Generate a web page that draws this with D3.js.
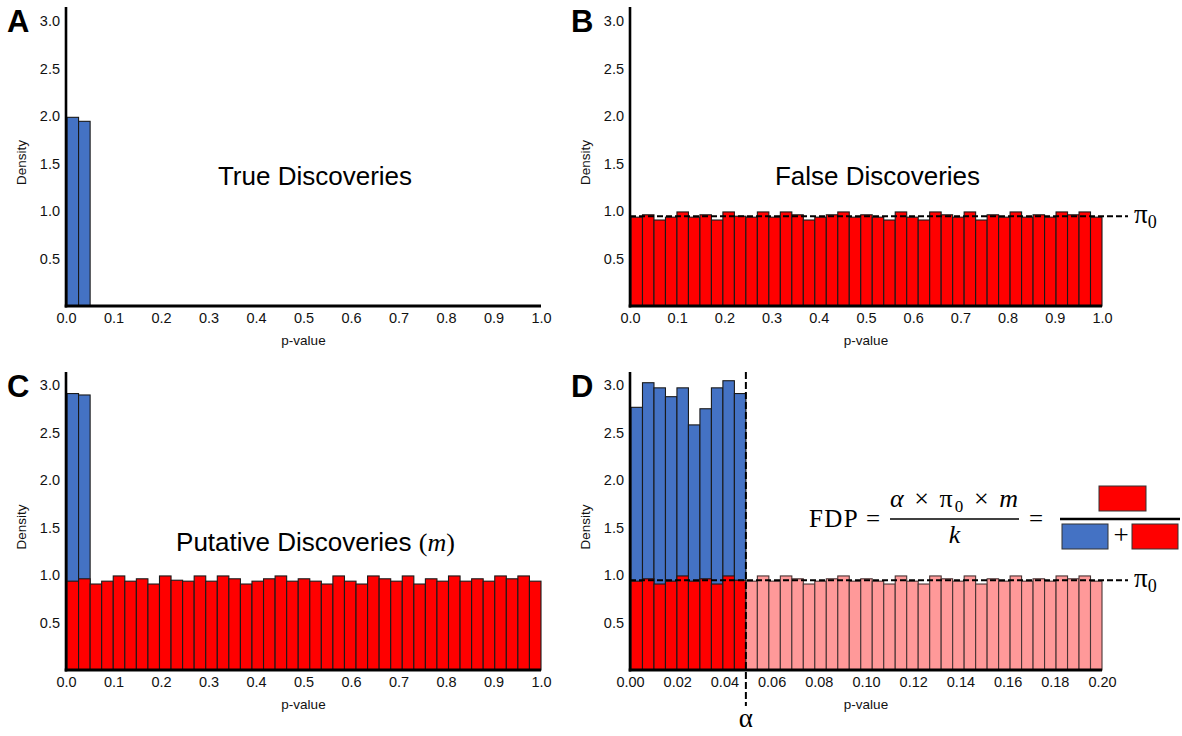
<!DOCTYPE html>
<html><head><meta charset="utf-8">
<script src="https://cdn.jsdelivr.net/npm/d3@7"></script>
<style>body{margin:0;background:#fff}svg{display:block}</style>
</head><body><svg id="c" width="1182" height="736"></svg>
<script>
// ---- data ----
// null (false-discovery) histogram densities, 41 bins
const nullDensity = [0.935,0.96,0.905,0.935,0.99,0.935,0.96,0.905,0.99,0.945,
  0.935,0.99,0.935,0.99,0.96,0.905,0.935,0.96,0.99,0.935,
  0.96,0.935,0.905,0.99,0.935,0.905,0.99,0.96,0.935,0.99,
  0.905,0.96,0.935,0.99,0.935,0.96,0.935,0.99,0.96,0.99,0.935];
const trueDensityA = [1.986, 1.944];          // panel A true discoveries
const totalDensityC = [2.91, 2.895];          // panel C first two bins (true+false)
const totalDensityD = [2.765,3.024,2.97,2.877,2.97,2.58,2.75,2.97,3.045,2.91]; // panel D bins below alpha
const pi0 = 0.945;
const alphaBins = 10;
const yTicks = [0.5,1.0,1.5,2.0,2.5,3.0];
const xTicksUnit = [0,0.1,0.2,0.3,0.4,0.5,0.6,0.7,0.8,0.9,1.0];
const xTicksZoom = [0,0.02,0.04,0.06,0.08,0.10,0.12,0.14,0.16,0.18,0.20];
const panelLetters = ["A","B","C","D"];
const titleA = "True Discoveries", titleB = "False Discoveries", titleC = "Putative Discoveries ";

const svg = d3.select("#c");
const RED="#FF0000", BLUE="#4472C4", PINK="#FF9999", EDGE="#1a1a1a";
const sans="'Liberation Sans', Arial, sans-serif", serif="'Liberation Serif', 'Times New Roman', serif";

const panels = [
  {id:"A", x0:66, x1:541, y0:306, yTop:7, xTicks:xTicksUnit, xDom:[0,1], fmt:d3.format(".1f")},
  {id:"B", x0:630, x1:1102, y0:306, yTop:7, xTicks:xTicksUnit, xDom:[0,1], fmt:d3.format(".1f")},
  {id:"C", x0:66, x1:541, y0:670, yTop:372, xTicks:xTicksUnit, xDom:[0,1], fmt:d3.format(".1f")},
  {id:"D", x0:630, x1:1102, y0:670, yTop:372, xTicks:xTicksZoom, xDom:[0,0.2], fmt:d3.format(".2f")}
];

panels.forEach((p,pi) => {
  const g = svg.append("g");
  p.y = d3.scaleLinear().domain([0,3]).range([p.y0, p.y0-285]);
  p.x = d3.scaleLinear().domain(p.xDom).range([p.x0, p.x1]);
  p.b = d3.scaleBand().domain(d3.range(nullDensity.length)).range([p.x0+1, p.x1]).padding(0);
  p.g = g;
  const bar = (sel, i, v, fill, edge) => sel.append("rect")
      .attr("x", p.b(i)).attr("width", p.b.bandwidth())
      .attr("y", p.y(v)).attr("height", p.y0 - p.y(v))
      .attr("fill", fill).attr("stroke", edge||EDGE).attr("stroke-width", 1.1);
  const bars = g.append("g");
  if (p.id==="A") {
    trueDensityA.forEach((v,i)=>bar(bars,i,v,BLUE));
  } else if (p.id==="B") {
    nullDensity.forEach((v,i)=>bar(bars,i,v,RED));
  } else if (p.id==="C") {
    totalDensityC.forEach((v,i)=>bar(bars,i,v,BLUE));
    nullDensity.forEach((v,i)=>bar(bars,i,v,RED));
  } else {
    totalDensityD.forEach((v,i)=>bar(bars,i,v,BLUE));
    nullDensity.forEach((v,i)=>{ if(i<alphaBins) bar(bars,i,v,RED); else bar(bars,i,v,PINK,"#4a3535"); });
  }
  // axes
  const ya = g.append("g").attr("transform",`translate(${p.x0},0)`)
    .call(d3.axisLeft(p.y).tickValues(yTicks).tickSize(0).tickPadding(6).tickFormat(d3.format(".1f")));
  ya.select(".domain").remove();
  ya.selectAll("text").attr("font-family",sans).attr("font-size",14.5).attr("fill","#111");
  const xa = g.append("g").attr("transform",`translate(0,${p.y0})`)
    .call(d3.axisBottom(p.x).tickValues(p.xTicks).tickSize(0).tickPadding(7).tickFormat(p.fmt));
  xa.select(".domain").remove();
  xa.selectAll("text").attr("font-family",sans).attr("font-size",14.5).attr("fill","#111");
  g.append("line").attr("x1",p.x0).attr("x2",p.x0).attr("y1",p.yTop).attr("y2",p.y0+1.5)
    .attr("stroke","#000").attr("stroke-width",2.6);
  g.append("line").attr("x1",p.x0-1.3).attr("x2",p.x1).attr("y1",p.y0).attr("y2",p.y0)
    .attr("stroke","#000").attr("stroke-width",3);
  // labels
  g.append("text").attr("transform",`translate(${p.x0-44},${(p.y0+p.yTop)/2+6}) rotate(-90)`)
    .attr("text-anchor","middle").attr("dominant-baseline","middle")
    .attr("font-family",sans).attr("font-size",13.5).attr("fill","#111").text("Density");
  g.append("text").attr("x",(p.x0+p.x1)/2).attr("y",p.y0+35)
    .attr("text-anchor","middle").attr("dominant-baseline","middle")
    .attr("font-family",sans).attr("font-size",13.5).attr("fill","#111").text("p-value");
  g.append("text").attr("x",p.x0-59).attr("y",p.yTop+25)
    .attr("font-family",sans).attr("font-weight","bold").attr("font-size",31).attr("fill","#000")
    .text(panelLetters[pi]);
});

// pi0 dashed lines
[panels[1], panels[3]].forEach(p => {
  p.g.append("line").attr("x1",p.x0).attr("x2",1128).attr("y1",p.y(pi0)).attr("y2",p.y(pi0))
    .attr("stroke","#000").attr("stroke-width",2).attr("stroke-dasharray","6,3");
  const t = p.g.append("text").attr("x",1134).attr("y",p.y(pi0)+7)
    .attr("font-family",serif).attr("font-size",27).attr("fill","#000");
  t.append("tspan").text("π");
  t.append("tspan").attr("font-size",18).attr("dy",5).text("0");
});

// alpha line in D
{
  const p = panels[3];
  const ax = p.b(alphaBins);
  p.g.append("line").attr("x1",ax).attr("x2",ax).attr("y1",p.yTop).attr("y2",706)
    .attr("stroke","#000").attr("stroke-width",2).attr("stroke-dasharray","7,3");
  p.g.append("text").attr("x",ax).attr("y",727).attr("text-anchor","middle")
    .attr("font-family",serif).attr("font-size",27).attr("fill","#000").text("α");
}

// titles
svg.append("text").attr("x",315).attr("y",185).attr("text-anchor","middle")
  .attr("font-family",sans).attr("font-size",26).attr("fill","#000").text(titleA);
svg.append("text").attr("x",877.5).attr("y",185).attr("text-anchor","middle")
  .attr("font-family",sans).attr("font-size",26).attr("fill","#000").text(titleB);
{
  const t = svg.append("text").attr("x",315.5).attr("y",551).attr("text-anchor","middle")
    .attr("font-family",sans).attr("font-size",26).attr("fill","#000");
  t.append("tspan").text(titleC);
  t.append("tspan").attr("font-family",serif).text("(");
  t.append("tspan").attr("font-family",serif).attr("font-style","italic").text("m");
  t.append("tspan").attr("font-family",serif).text(")");
}

// FDP formula
{
  const f = svg.append("g").attr("font-family",serif).attr("fill","#000");
  f.append("text").attr("x",809).attr("y",527).attr("font-size",25).attr("textLength",71).attr("lengthAdjust","spacing").text("FDP =");
  const num = f.append("text").attr("x",890).attr("y",507).attr("font-size",26)
    .attr("textLength",128).attr("lengthAdjust","spacing");
  num.append("tspan").attr("font-style","italic").text("α");
  num.append("tspan").text(" × π");
  num.append("tspan").attr("font-size",17).attr("dy",5).text("0");
  num.append("tspan").attr("dy",-5).text(" × ");
  num.append("tspan").attr("font-style","italic").text("m");
  f.append("line").attr("x1",890).attr("x2",1019).attr("y1",519).attr("y2",519).attr("stroke","#000").attr("stroke-width",1.5);
  f.append("text").attr("x",954.5).attr("y",543).attr("text-anchor","middle").attr("font-size",26).attr("font-style","italic").text("k");
  f.append("text").attr("x",1029).attr("y",527).attr("font-size",25).text("=");
  f.append("rect").attr("x",1099).attr("y",486).attr("width",47).attr("height",25).attr("fill",RED).attr("stroke","#333");
  f.append("line").attr("x1",1060).attr("x2",1180).attr("y1",519).attr("y2",519).attr("stroke","#000").attr("stroke-width",2.5);
  f.append("rect").attr("x",1062).attr("y",524).attr("width",46).attr("height",25).attr("fill",BLUE).attr("stroke","#333");
  f.append("text").attr("x",1121).attr("y",544).attr("text-anchor","middle").attr("font-size",27).text("+");
  f.append("rect").attr("x",1132).attr("y",524).attr("width",46).attr("height",25).attr("fill",RED).attr("stroke","#333");
}
</script></body></html>
